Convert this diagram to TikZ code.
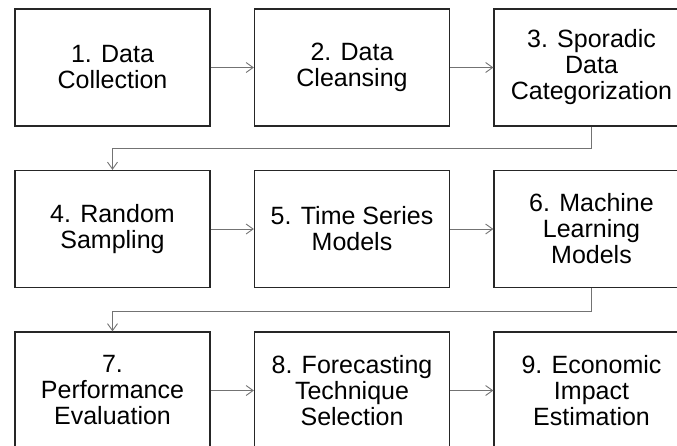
\documentclass[tikz,border=0pt]{standalone}
\usepackage{fontspec}
\setmainfont{Liberation Sans}
\usetikzlibrary{arrows.meta}
\begin{document}
\begin{tikzpicture}[x=1pt,y=-1pt,
  stepbox/.style={draw=black!85, line width=1.3pt, minimum width=195pt,
    minimum height=117pt, inner sep=0pt, align=center,
    font=\fontsize{25}{26}\selectfont},
  flow/.style={draw=black!55, line width=0.9pt,
    -{Straight Barb[length=7pt,width=10pt]}}]
\useasboundingbox (0,0) rectangle (677,445);
\clip (0,0) rectangle (677,445);
% row 1
\node[stepbox] (s1) at (112.5,67.5) {1. Data\\Collection};
\node[stepbox] (s2) at (352,67.5) {2. Data\\Cleansing};
\node[stepbox] (s3) at (591.5,67.5) {3. Sporadic\\Data\\Categorization};
% row 2
\node[stepbox] (s4) at (112.5,229) {4. Random\\Sampling};
\node[stepbox] (s5) at (352,229) {5. Time Series\\Models};
\node[stepbox] (s6) at (591.5,229) {6. Machine\\Learning\\Models};
% row 3
\node[stepbox] (s7) at (112.5,390.5) {7.\\Performance\\Evaluation};
\node[stepbox] (s8) at (352,390.5) {8. Forecasting\\Technique\\Selection};
\node[stepbox] (s9) at (591.5,390.5) {9. Economic\\Impact\\Estimation};
% connectors
\draw[flow] (s1) -- (s2);
\draw[flow] (s2) -- (s3);
\draw[flow] (s3.south) -- ++(0,22) -| (s4.north);
\draw[flow] (s4) -- (s5);
\draw[flow] (s5) -- (s6);
\draw[flow] (s6.south) -- ++(0,23) -| (s7.north);
\draw[flow] (s7) -- (s8);
\draw[flow] (s8) -- (s9);
\end{tikzpicture}
\end{document}
